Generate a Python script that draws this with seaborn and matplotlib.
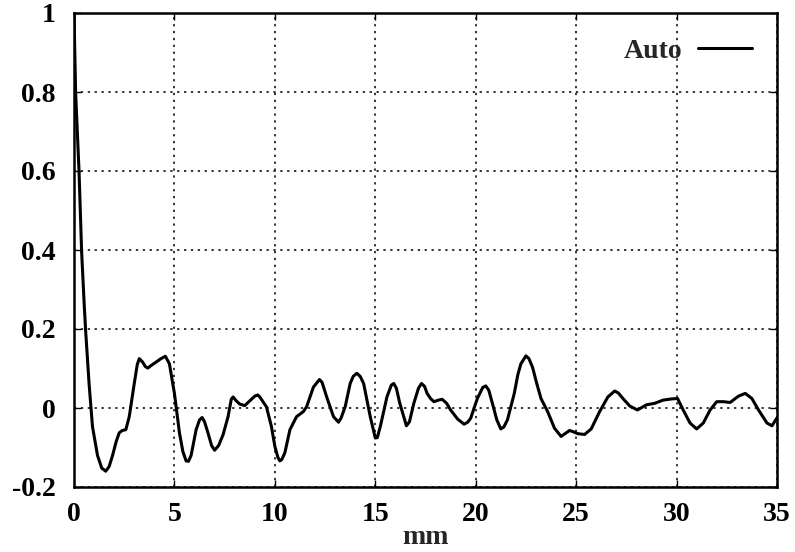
import matplotlib
matplotlib.use("Agg")
import matplotlib.pyplot as plt
import seaborn as sns
import pandas as pd

# data
mm = [0, 0.08, 0.25, 0.38, 0.5, 0.58, 0.75, 0.92, 1.17, 1.38, 1.58, 1.75, 1.92, 2.1,
      2.25, 2.4, 2.58, 2.75, 3.0, 3.15, 3.25, 3.42, 3.55, 3.67, 3.85, 4.08, 4.3,
      4.55, 4.75, 5.0, 5.25, 5.42, 5.58, 5.7, 5.83, 6.08, 6.25, 6.38, 6.5, 6.67,
      6.85, 7.0, 7.2, 7.42, 7.67, 7.83, 7.92, 8.08, 8.25, 8.5, 8.75, 9.0, 9.15,
      9.25, 9.58, 9.83, 10.0, 10.15, 10.25, 10.35, 10.5, 10.75, 11.08, 11.42,
      11.58, 11.92, 12.22, 12.35, 12.58, 12.92, 13.17, 13.3, 13.5, 13.75, 13.9,
      14.08, 14.25, 14.42, 14.75, 15.0, 15.1, 15.25, 15.58, 15.8, 15.92, 16.05,
      16.22, 16.55, 16.7, 16.92, 17.15, 17.3, 17.45, 17.58, 17.75, 17.92, 18.15,
      18.33, 18.55, 18.75, 19.1, 19.42, 19.6, 19.75, 20.08, 20.35, 20.5, 20.65,
      20.83, 21.05, 21.25, 21.4, 21.58, 21.92, 22.1, 22.25, 22.5, 22.65, 22.83,
      23.05, 23.25, 23.58, 23.92, 24.25, 24.45, 24.67, 24.85, 25.08, 25.42, 25.75,
      26.17, 26.58, 26.92, 27.1, 27.33, 27.67, 28.05, 28.5, 28.92, 29.33, 29.75,
      30.05, 30.33, 30.67, 31.0, 31.33, 31.67, 32.0, 32.33, 32.67, 33.08, 33.42,
      33.75, 34.08, 34.5, 34.75, 35.0]
auto = [1.0, 0.8, 0.6, 0.395, 0.27, 0.195, 0.062, -0.047, -0.12, -0.152, -0.16,
        -0.148, -0.12, -0.085, -0.063, -0.057, -0.055, -0.022, 0.062, 0.11, 0.125,
        0.116, 0.105, 0.101, 0.108, 0.116, 0.124, 0.131, 0.112, 0.037, -0.063,
        -0.11, -0.134, -0.135, -0.12, -0.055, -0.03, -0.024, -0.035, -0.063,
        -0.095, -0.107, -0.095, -0.068, -0.022, 0.022, 0.028, 0.018, 0.01, 0.006,
        0.018, 0.03, 0.033, 0.028, 0.003, -0.047, -0.097, -0.125, -0.134, -0.13,
        -0.113, -0.055, -0.022, -0.009, 0.003, 0.053, 0.072, 0.065, 0.028, -0.022,
        -0.036, -0.025, 0.003, 0.062, 0.08, 0.088, 0.08, 0.062, -0.022, -0.076,
        -0.075, -0.047, 0.028, 0.058, 0.062, 0.05, 0.012, -0.045, -0.035, 0.012,
        0.05, 0.062, 0.055, 0.037, 0.024, 0.016, 0.02, 0.022, 0.012, -0.005,
        -0.028, -0.041, -0.036, -0.026, 0.024, 0.052, 0.056, 0.045, 0.012, -0.03,
        -0.053, -0.048, -0.03, 0.037, 0.085, 0.112, 0.132, 0.125, 0.103, 0.06,
        0.024, -0.009, -0.051, -0.072, -0.065, -0.057, -0.06, -0.065, -0.067,
        -0.053, -0.009, 0.028, 0.043, 0.038, 0.024, 0.005, -0.005, 0.008, 0.012,
        0.02, 0.023, 0.024, -0.005, -0.038, -0.053, -0.038, -0.005, 0.016, 0.016,
        0.014, 0.03, 0.037, 0.024, -0.005, -0.038, -0.045, -0.025]
xticks = [0, 5, 10, 15, 20, 25, 30, 35]
yticks = [-0.2, 0, 0.2, 0.4, 0.6, 0.8, 1]
ytick_labels = ["-0.2", "0", "0.2", "0.4", "0.6", "0.8", "1"]

df = pd.DataFrame({"mm": mm, "Auto": auto})

sns.set_style("ticks")
plt.rcParams["font.family"] = ["Liberation Serif", "DejaVu Serif"]

fig = plt.figure(figsize=(7.95, 5.52), dpi=100)
ax = fig.add_axes([74 / 795, 1 - 487 / 552, (777 - 74) / 795, (487 - 13) / 552])

sns.lineplot(data=df, x="mm", y="Auto", ax=ax, color="black", linewidth=2.2,
             label="Auto", estimator=None, sort=False)

ax.set_xlim(0, 35)
ax.set_ylim(-0.2, 1)
ax.set_xticks(xticks)
ax.set_xticklabels([str(t) for t in xticks])
ax.set_yticks(yticks)
ax.set_yticklabels(ytick_labels)
ax.grid(True, color="black", linestyle=(0, (1.5, 3)), linewidth=1.1)
for s in ax.spines.values():
    s.set_color("black")
    s.set_linewidth(1.8)
ax.tick_params(direction="in", length=5, width=1, top=True, right=True,
               labelsize=20, colors="black")
ax.tick_params(axis="y", pad=13)
ax.tick_params(axis="x", pad=11)
for lab in ax.get_xticklabels() + ax.get_yticklabels():
    lab.set_fontweight("bold")
ax.set_xlabel("mm", fontsize=20, fontweight="bold")
ax.xaxis.set_label_coords(0.5, -0.08)
ax.set_ylabel("")

leg = ax.legend(loc="center right", frameon=False, markerfirst=False,
                prop={"size": 20, "weight": "bold"}, handlelength=1.95,
                handletextpad=0.55, borderaxespad=0, borderpad=0,
                bbox_to_anchor=(0.9644, 0.9195))

fig.savefig("out.png", dpi=100)
